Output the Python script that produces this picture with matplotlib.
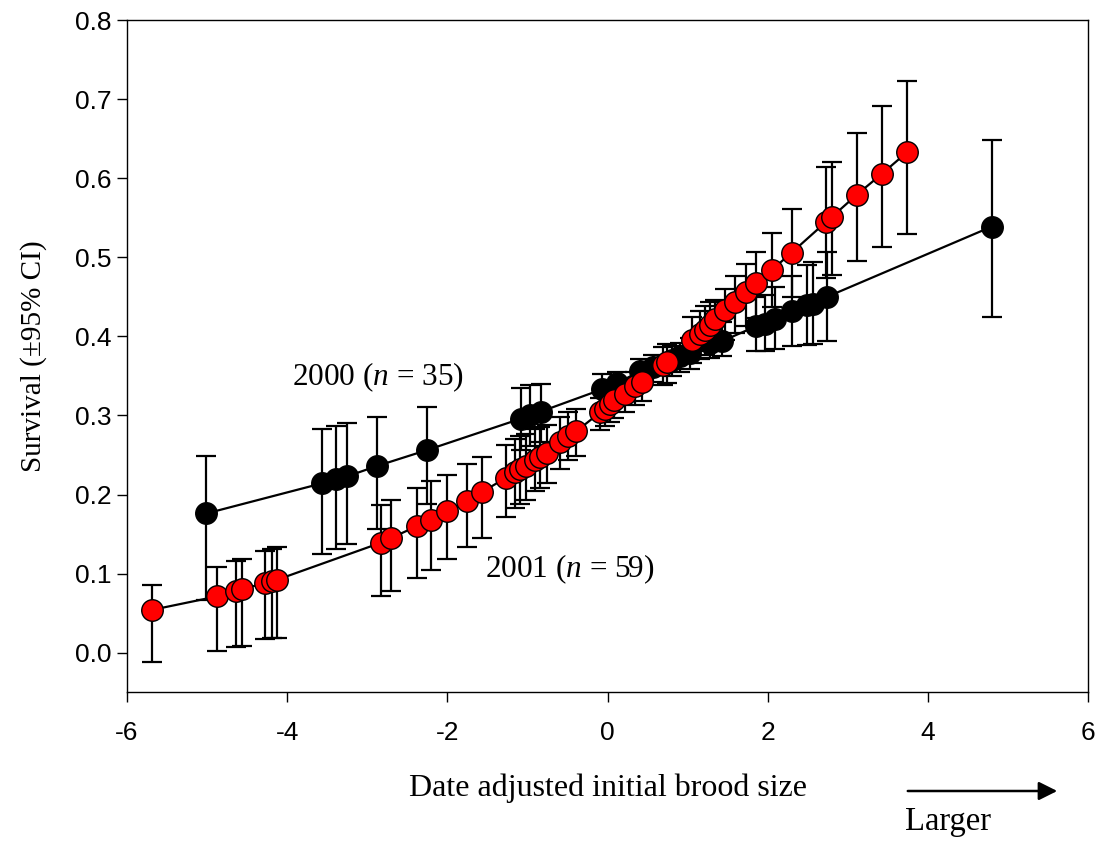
import matplotlib.pyplot as plt
import numpy as np

# 2000 (n = 35)
x00 = [-5.01, -3.57, -3.39, -3.25, -2.88, -2.26, -1.08, -0.97, -0.83, -0.07, 0.12,
       0.41, 0.57, 0.80, 0.91, 1.03, 1.28, 1.43, 1.86, 1.97, 2.09, 2.30, 2.49, 2.57,
       2.74, 4.80]
s00 = [0.176, 0.214, 0.220, 0.223, 0.236, 0.256, 0.296, 0.301, 0.305, 0.333, 0.341,
       0.356, 0.361, 0.370, 0.375, 0.379, 0.392, 0.394, 0.413, 0.416, 0.422, 0.432,
       0.440, 0.441, 0.450, 0.539]
lo00 = [0.066, 0.125, 0.131, 0.138, 0.156, 0.188, 0.256, 0.261, 0.266, 0.312, 0.322,
        0.336, 0.342, 0.350, 0.355, 0.359, 0.373, 0.375, 0.381, 0.382, 0.384, 0.388,
        0.389, 0.391, 0.394, 0.425]
hi00 = [0.249, 0.283, 0.287, 0.290, 0.298, 0.311, 0.335, 0.338, 0.340, 0.352, 0.355,
        0.372, 0.377, 0.388, 0.392, 0.398, 0.412, 0.418, 0.450, 0.453, 0.462, 0.476,
        0.490, 0.494, 0.507, 0.649]

# 2001 (n = 59)
x01 = [-5.69, -4.88, -4.64, -4.57, -4.28, -4.19, -4.13, -2.83, -2.70, -2.38, -2.21,
       -2.01, -1.76, -1.57, -1.27, -1.15, -1.09, -1.02, -0.90, -0.84, -0.76, -0.59,
       -0.49, -0.39, -0.09, -0.03, 0.03, 0.08, 0.22, 0.34, 0.43, 0.69, 0.74, 1.05,
       1.15, 1.22, 1.28, 1.34, 1.47, 1.59, 1.73, 1.86, 2.05, 2.30, 2.73, 2.80, 3.11,
       3.43, 3.74]
s01 = [0.054, 0.071, 0.078, 0.080, 0.088, 0.090, 0.092, 0.139, 0.145, 0.160, 0.168,
       0.179, 0.192, 0.203, 0.221, 0.228, 0.232, 0.236, 0.244, 0.248, 0.253, 0.267,
       0.274, 0.280, 0.304, 0.308, 0.314, 0.319, 0.327, 0.337, 0.342, 0.364, 0.367,
       0.396, 0.403, 0.408, 0.415, 0.422, 0.434, 0.444, 0.456, 0.467, 0.484, 0.506,
       0.545, 0.551, 0.579, 0.606, 0.633]
lo01 = [-0.012, 0.002, 0.007, 0.008, 0.017, 0.018, 0.019, 0.071, 0.078, 0.095, 0.105,
        0.118, 0.134, 0.145, 0.172, 0.183, 0.188, 0.193, 0.204, 0.208, 0.215, 0.232,
        0.244, 0.249, 0.282, 0.287, 0.292, 0.297, 0.304, 0.313, 0.318, 0.338, 0.341,
        0.366, 0.372, 0.376, 0.381, 0.387, 0.396, 0.404, 0.413, 0.423, 0.437, 0.450,
        0.474, 0.478, 0.496, 0.513, 0.530]
hi01 = [0.085, 0.108, 0.116, 0.118, 0.129, 0.131, 0.133, 0.187, 0.193, 0.208, 0.217,
        0.225, 0.238, 0.247, 0.263, 0.270, 0.274, 0.276, 0.283, 0.286, 0.288, 0.298,
        0.305, 0.308, 0.322, 0.326, 0.330, 0.334, 0.342, 0.355, 0.360, 0.386, 0.390,
        0.424, 0.432, 0.438, 0.443, 0.446, 0.460, 0.476, 0.491, 0.507, 0.531, 0.561,
        0.614, 0.621, 0.657, 0.692, 0.723]

plt.rcParams['font.family'] = ['Liberation Sans', 'DejaVu Sans']
plt.rcParams['mathtext.fontset'] = 'custom'
plt.rcParams['mathtext.it'] = 'Liberation Serif:italic'
plt.rcParams['mathtext.rm'] = 'Liberation Serif'
serif = ['Liberation Serif', 'DejaVu Serif']

fig = plt.figure(figsize=(10.99, 8.42), dpi=100)
ax = fig.add_axes([0.1156, 0.178, 0.8744, 0.798])

def series(x, s, lo, hi, face):
    s = np.array(s)
    yerr = [s - np.array(lo), np.array(hi) - s]
    ax.errorbar(x, s, yerr=yerr, fmt='none', ecolor='black', elinewidth=1.6,
                capsize=7, capthick=1.6, zorder=2)
    ax.plot(x, s, '-', color='black', lw=1.6, zorder=3)
    ax.plot(x, s, 'o', ms=15.5, mfc=face, mec='black', mew=1.0, ls='none', zorder=4)

series(x00, s00, lo00, hi00, 'black')
series(x01, s01, lo01, hi01, '#ff0000')

ax.set_xlim(-6, 6)
ax.set_ylim(-0.05, 0.8)
ax.set_xticks([-6, -4, -2, 0, 2, 4, 6])
ax.set_xticklabels(['-6', '-4', '-2', '0', '2', '4', '6'])
ax.set_yticks(np.arange(0, 0.81, 0.1))
ax.set_yticklabels(['%.1f' % v for v in np.arange(0, 0.81, 0.1)])
ax.tick_params(direction='out', length=7, width=1, labelsize=19, pad=4)
ax.tick_params(axis='x', pad=14)
for sp in ax.spines.values():
    sp.set_linewidth(1.0)

ax.set_ylabel('Survival (±95% CI)', family=serif, fontsize=21, labelpad=20)
ax.set_xlabel('Date adjusted initial brood size', family=serif, fontsize=23, labelpad=20)

ax.text(-2.87, 0.348, '2000 ($\\it{n}$ = 35)', family=serif, fontsize=22.5,
        ha='center', va='center')
ax.text(-0.47, 0.105, '2001 ($\\it{n}$ = 59)', family=serif, fontsize=22.5,
        ha='center', va='center')

fig.patches.append(plt.matplotlib.patches.FancyArrowPatch(
    (905 / 1099, 1 - 791 / 842), (1060 / 1099, 1 - 791 / 842),
    transform=fig.transFigure, arrowstyle='-|>', mutation_scale=28,
    color='black', lw=1.8))
fig.text(948 / 1099, 1 - 822 / 842, 'Larger', family=serif, fontsize=23.5,
         ha='center', va='center')

fig.savefig('out.png', dpi=100)
